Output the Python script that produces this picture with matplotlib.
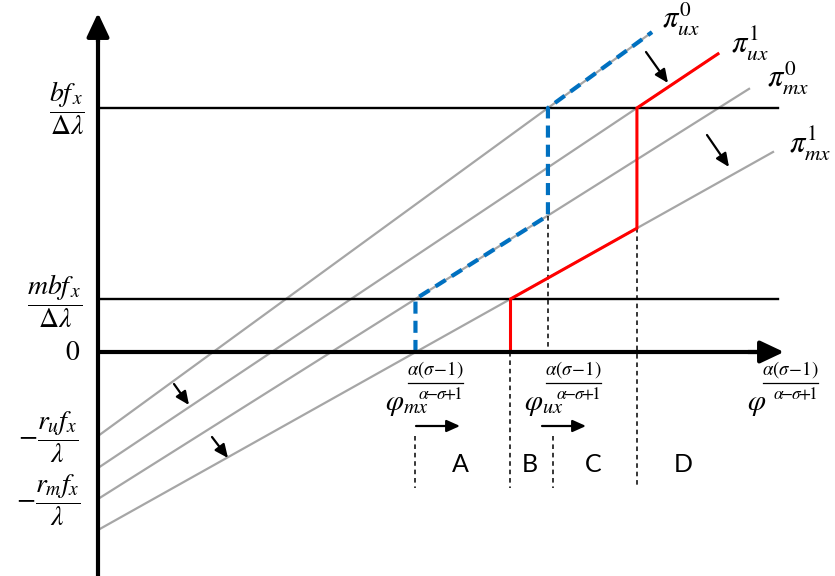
import matplotlib
matplotlib.use("Agg")
import matplotlib.pyplot as plt
import numpy as np

plt.rcParams['mathtext.fontset'] = 'stix'
plt.rcParams['font.family'] = ['Lato', 'DejaVu Sans']

# ---- schematic data (x = productivity index, y = profit) ----
line_names = [r'$\pi_{ux}^{0}$', r'$\pi_{ux}^{1}$', r'$\pi_{mx}^{0}$', r'$\pi_{mx}^{1}$']
intercepts = [-84, -116, -147, -178]
slopes = [0.729, 0.668, 0.630, 0.560]
line_end = [554, 620, 652, 676]
bf_level = 244      # bf_x / Δλ
mbf_level = 53      # mbf_x / Δλ
region_labels = ['A', 'B', 'C', 'D']

def val(i, x):
    return intercepts[i] + slopes[i] * x

def cross(i, level):
    return (level - intercepts[i]) / slopes[i]

fig = plt.figure(figsize=(8.35, 5.76), dpi=100)
ax = fig.add_axes([0, 0, 1, 1])
ax.set_xlim(-98, 737)
ax.set_ylim(-224, 352)
ax.axis('off')

gray = '#A6A6A6'
red = '#FF0000'
blue = '#0070C0'

# gray profit lines
for i in range(4):
    xs = np.array([0, line_end[i]])
    ax.plot(xs, val(i, xs), color=gray, lw=1.6, zorder=2, solid_capstyle='butt')

# thresholds
for lev in (bf_level, mbf_level):
    ax.plot([0, 680], [lev, lev], color='black', lw=1.7, zorder=3)

# cutoffs
x_mx0 = cross(2, mbf_level)
x_ux0 = cross(0, bf_level)
x_mx1 = cross(3, mbf_level)
x_ux1 = cross(1, bf_level)

# blue dashed envelope (regime 0)
bx = [x_mx0, x_mx0, x_ux0, x_ux0, line_end[0]]
by = [0, mbf_level, val(2, x_ux0), bf_level, val(0, line_end[0])]
ax.plot(bx, by, color=blue, lw=3.0, dashes=(2.9, 1.7), zorder=5)

# red envelope (regime 1)
rx = [x_mx1, x_mx1, x_ux1, x_ux1, line_end[1]]
ry = [0, mbf_level, val(3, x_ux1), bf_level, val(1, line_end[1])]
ax.plot(rx, ry, color=red, lw=2.2, zorder=5, solid_joinstyle='miter')

# dotted guides
dk = dict(color='black', lw=1.1, dashes=(3, 2.5), zorder=4)
ax.plot([x_ux0, x_ux0], [val(2, x_ux0), 0], **dk)
ax.plot([x_ux1, x_ux1], [val(3, x_ux1), -136], **dk)
ax.plot([x_mx1, x_mx1], [0, -136], **dk)
ax.plot([x_mx0, x_mx0], [-84, -136], **dk)
ax.plot([x_ux0 + 5, x_ux0 + 5], [-84, -136], **dk)

# axes with arrows
ax.plot([0, 0], [-224, 330], color='black', lw=3, zorder=6, solid_capstyle='butt')
ax.plot([0, 670], [0, 0], color='black', lw=3, zorder=6, solid_capstyle='butt')
ax.annotate('', xy=(0, 339), xytext=(0, 310),
            arrowprops=dict(arrowstyle='-|>,head_length=0.72,head_width=0.34',
                            color='black', lw=3, mutation_scale=20, shrinkA=0, shrinkB=0), zorder=7)
ax.annotate('', xy=(686, 0), xytext=(650, 0),
            arrowprops=dict(arrowstyle='-|>,head_length=0.72,head_width=0.34',
                            color='black', lw=3, mutation_scale=20, shrinkA=0, shrinkB=0), zorder=7)

# small shift arrows
ap = dict(arrowstyle='-|>,head_length=0.4,head_width=0.18', color='black', lw=1.6,
          mutation_scale=20, shrinkA=0, shrinkB=0)
for (x0, y0, x1, y1) in [(548, 300, 570, 269), (609, 217, 631, 185),
                         (76, -32, 91, -53), (114, -85, 130, -106),
                         (318, -74, 362, -74), (444, -74, 488, -74)]:
    ax.annotate('', xy=(x1, y1), xytext=(x0, y0), arrowprops=ap, zorder=7)

# left labels
ax.text(-31, 244, r'$\dfrac{bf_{\,x}}{\Delta\lambda}$', fontsize=20, ha='center', va='center')
ax.text(-43, 51, r'$\dfrac{mbf_{\,x}}{\Delta\lambda}$', fontsize=20, ha='center', va='center')
ax.text(-25, 0, r'$0$', fontsize=20, ha='center', va='center')
ax.text(-50, -85, r'$-\dfrac{r_u f_x}{\lambda}$', fontsize=20, ha='center', va='center')
ax.text(-50, -148, r'$-\dfrac{r_m f_x}{\lambda}$', fontsize=20, ha='center', va='center')

# line labels
for name, (x, y) in zip(line_names, [(583, 333), (652, 308), (690, 274), (712, 208)]):
    ax.text(x, y, name, fontsize=22, ha='center', va='center')

# phi labels: phi with subscript, and a fractional exponent (numerator / bar / denominator)
num = r'$\alpha(\sigma\!-\!1)$'
den = r'$\alpha\!\!-\!\!\sigma\!\!+\!\!1$'
for (sub, xphi, x_num0, x_num1) in [(r'_{mx}', 287, 310, 365),
                                     (r'_{ux}', 426, 448, 503),
                                     ('', 649, 665, 720)]:
    ax.text(xphi, -53, r'$\varphi' + sub + '$', fontsize=21, ha='left', va='center')
    ax.text((x_num0 + x_num1) / 2, -28, num, fontsize=13.5, ha='center', va='bottom')
    ax.plot([x_num0, x_num1], [-31, -31], color='black', lw=0.9)
    ax.text(x_num1 - 1, -34, den, fontsize=12.5, ha='right', va='top')

# region labels
for lab, x in zip(region_labels, [362, 432, 495, 585]):
    ax.text(x, -113, lab, fontsize=18, ha='center', va='center', color='black')

fig.savefig('out.png', dpi=100)
